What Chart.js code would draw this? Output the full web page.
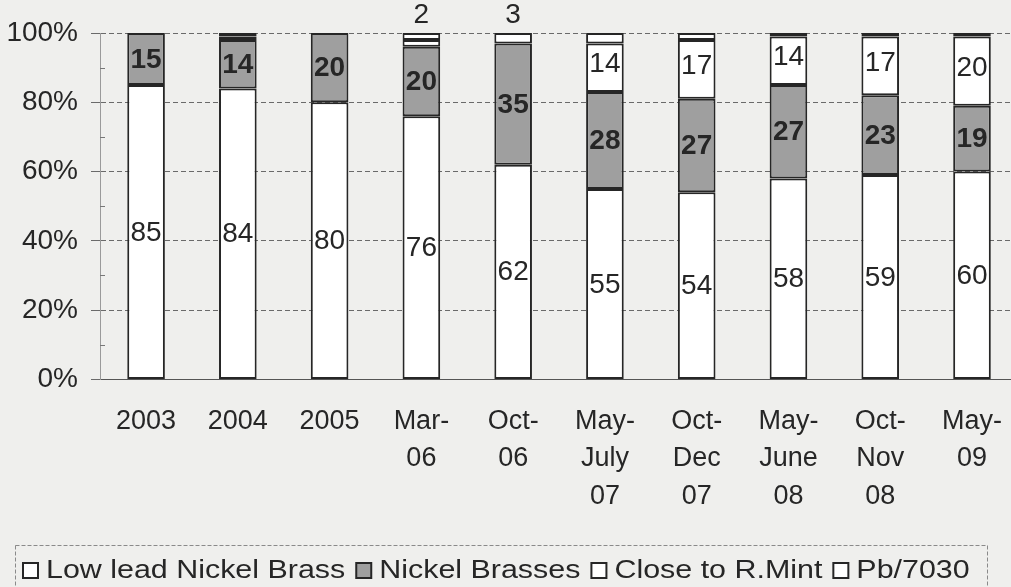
<!DOCTYPE html>
<html>
<head>
<meta charset="utf-8">
<script src="https://cdn.jsdelivr.net/npm/chart.js@4/dist/chart.umd.min.js"></script>
<style>
  body { margin: 0; background: #efefed; overflow: hidden; }
</style>
</head>
<body>
<canvas id="alloy-chart" width="1011" height="587"></canvas>
<script>
var categories = [
  "2003", "2004", "2005", ["Mar-", "06"], ["Oct-", "06"],
  ["May-", "July", "07"], ["Oct-", "Dec", "07"], ["May-", "June", "08"],
  ["Oct-", "Nov", "08"], ["May-", "09"]
];
var lowLead     = [85, 84, 80, 76, 62, 55, 54, 58, 59, 60];
var nickel      = [15, 14, 20, 20, 35, 28, 27, 27, 23, 19];
var closeToMint = [0, 1, 0, 2, 3, 14, 17, 14, 17, 20];
var pb7030      = [0, 1, 0, 2, 0, 3, 2, 1, 1, 1];
var yTicks = [0, 20, 40, 60, 80, 100];

var ink = "#262626";
var fontFam = "'Liberation Sans', Arial, sans-serif";

// value labels drawn on the bars
var barLabels = {
  id: "barLabels",
  afterDatasetsDraw: function (chart) {
    var c = chart.ctx;
    c.save();
    c.fillStyle = ink;
    c.textAlign = "center";
    c.textBaseline = "middle";
    chart.data.datasets.forEach(function (ds, i) {
      var meta = chart.getDatasetMeta(i);
      meta.data.forEach(function (bar, j) {
        var v = ds.data[j].y;
        if (!v) return;
        var mid = (bar.y + bar.base) / 2 + 1;
        if (i === 0) {
          c.font = "28px " + fontFam;
          c.fillText(v, bar.x, mid);
        } else if (i === 1) {
          c.font = "bold 28px " + fontFam;
          c.fillText(v, bar.x, mid);
        } else if (i === 2) {
          c.font = "28px " + fontFam;
          if (v >= 10) {
            c.fillText(v, bar.x, mid - 4);
          } else if (v >= 2) {
            var top = chart.scales.y.getPixelForValue(100);
            c.fillText(v, bar.x, top - 18);
          }
        }
      });
    });
    c.restore();
  }
};

// minor ticks on the value axis + the boxed legend
var extras = {
  id: "extras",
  afterDraw: function (chart) {
    var c = chart.ctx;
    var y = chart.scales.y;
    c.save();
    c.strokeStyle = "#777";
    c.lineWidth = 1;
    [10, 30, 50, 70, 90].forEach(function (v) {
      var py = Math.round(y.getPixelForValue(v)) + 0.5;
      c.beginPath();
      c.moveTo(y.right, py);
      c.lineTo(y.right + 5, py);
      c.stroke();
    });

    c.strokeStyle = "#8a8a8a";
    c.setLineDash([4, 2]);
    c.strokeRect(15.5, 545.5, 972, 50);
    c.setLineDash([]);

    // legend lettering is a little wider than the font, so stretch it
    var stretch = 1.17;
    c.font = "26px " + fontFam;
    c.textBaseline = "middle";
    c.textAlign = "left";
    var x = 23, cy = 571;
    chart.data.datasets.forEach(function (ds) {
      c.fillStyle = ds.backgroundColor;
      c.fillRect(x, cy - 8, 15, 15);
      c.strokeStyle = ink;
      c.lineWidth = 2;
      c.strokeRect(x, cy - 8, 15, 15);
      c.fillStyle = ink;
      c.save();
      c.translate(x + 23, cy);
      c.scale(stretch, 1);
      c.fillText(ds.label, 0, 0);
      c.restore();
      x += 23 + c.measureText(ds.label).width * stretch + 11;
    });
    c.restore();
  }
};

var series = [
  { label: "Low lead Nickel Brass", data: lowLead, fill: "#ffffff" },
  { label: "Nickel Brasses", data: nickel, fill: "#9f9f9f" },
  { label: "Close to R.Mint", data: closeToMint, fill: "#ffffff" },
  { label: "Pb/7030", data: pb7030, fill: "#ffffff" }
];

new Chart(document.getElementById("alloy-chart"), {
  type: "bar",
  data: {
    datasets: series.map(function (s) {
      return {
        label: s.label,
        data: s.data.map(function (v, j) { return { x: j, y: v || null }; }),
        backgroundColor: s.fill,
        borderColor: ink,
        borderWidth: 2,
        borderSkipped: false,
        categoryPercentage: 1,
        barPercentage: 0.41
      };
    })
  },
  options: {
    responsive: false,
    animation: false,
    layout: { padding: { top: 33, left: 4, right: 0, bottom: 57 } },
    scales: {
      x: {
        type: "linear",
        stacked: true,
        offset: false,
        // last column runs a little past the right edge of the picture
        min: -0.502,
        max: 9.425,
        afterBuildTicks: function (s) { s.ticks = categories.map(function (c, i) { return { value: i }; }); },
        afterFit: function (s) { s.paddingLeft = 0; s.paddingRight = 0; },
        grid: { display: false },
        border: { display: true, color: "#555", width: 1 },
        ticks: {
          color: ink,
          padding: 15,
          maxRotation: 0,
          autoSkip: false,
          font: { family: fontFam, size: 27, lineHeight: 1.39 },
          callback: function (v) { return categories[v]; }
        }
      },
      y: {
        stacked: true,
        min: 0,
        max: 100,
        afterBuildTicks: function (s) { s.ticks = yTicks.map(function (v) { return { value: v }; }); },
        afterFit: function (s) { s.width = 96; },
        grid: { color: "#6a6a6a", tickLength: 9, lineWidth: 1 },
        border: { display: true, color: "#9a9a9a", dash: [5, 3] },
        ticks: {
          color: ink,
          padding: 13,
          font: { family: fontFam, size: 28 },
          callback: function (v) { return v + "%"; }
        }
      }
    },
    plugins: {
      tooltip: { enabled: false },
      legend: { display: false }
    }
  },
  plugins: [barLabels, extras]
});
</script>
</body>
</html>
